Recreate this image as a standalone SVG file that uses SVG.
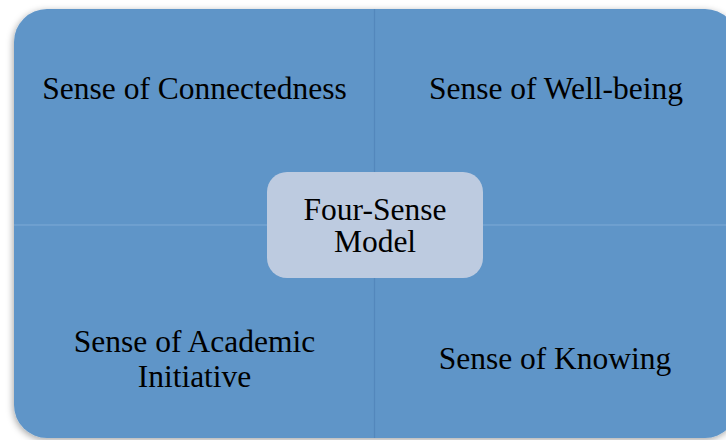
<svg xmlns="http://www.w3.org/2000/svg" width="726" height="440" viewBox="0 0 726 440">
  <defs>
    <filter id="shadow" x="-5%" y="-5%" width="110%" height="115%">
      <feDropShadow dx="-1" dy="2" stdDeviation="3.5" flood-color="#000" flood-opacity="0.35"/>
    </filter>
    <style>
      .quad { fill: #5f95c8; }
      .label { font-family: "Liberation Serif", "Times New Roman", serif; font-size: 31.5px; fill: #000; text-anchor: middle; }
      .center { fill: #bdcbe0; }
    </style>
  </defs>
  <rect width="726" height="440" fill="#ffffff"/>
  <g id="matrix" filter="url(#shadow)">
    <g id="q-connectedness">
      <path class="quad" d="M14,225 V42 A33,33 0 0 1 47,9 H375 V225 Z"/>
    </g>
    <g id="q-wellbeing">
      <path class="quad" d="M375,9 H705 A33,33 0 0 1 738,42 V225 H375 Z"/>
    </g>
    <g id="q-academic">
      <path class="quad" d="M14,225 H375 V438 H47 A33,33 0 0 1 14,405 Z"/>
    </g>
    <g id="q-knowing">
      <path class="quad" d="M375,225 H738 V405 A33,33 0 0 1 705,438 H375 Z"/>
    </g>
  </g>
  <g id="dividers">
    <line x1="374.5" y1="9" x2="374.5" y2="438" stroke="#4f82b6" stroke-width="1.2" stroke-opacity="0.7"/>
    <line x1="14" y1="225" x2="738" y2="225" stroke="#7eaad6" stroke-width="1"/>
  </g>
  <g id="label-connectedness">
    <text class="label" x="194.5" y="99">Sense of Connectedness</text>
  </g>
  <g id="label-wellbeing">
    <text class="label" x="556" y="99">Sense of Well-being</text>
  </g>
  <g id="label-academic">
    <text class="label" x="194.5" y="352">Sense of Academic</text>
    <text class="label" x="194.5" y="386.5">Initiative</text>
  </g>
  <g id="label-knowing">
    <text class="label" x="555" y="368.5">Sense of Knowing</text>
  </g>
  <g id="node-center">
    <rect class="center" x="267" y="172" width="216" height="106" rx="20" ry="20"/>
    <text class="label" x="375" y="219.5">Four-Sense</text>
    <text class="label" x="375" y="252">Model</text>
  </g>
</svg>
